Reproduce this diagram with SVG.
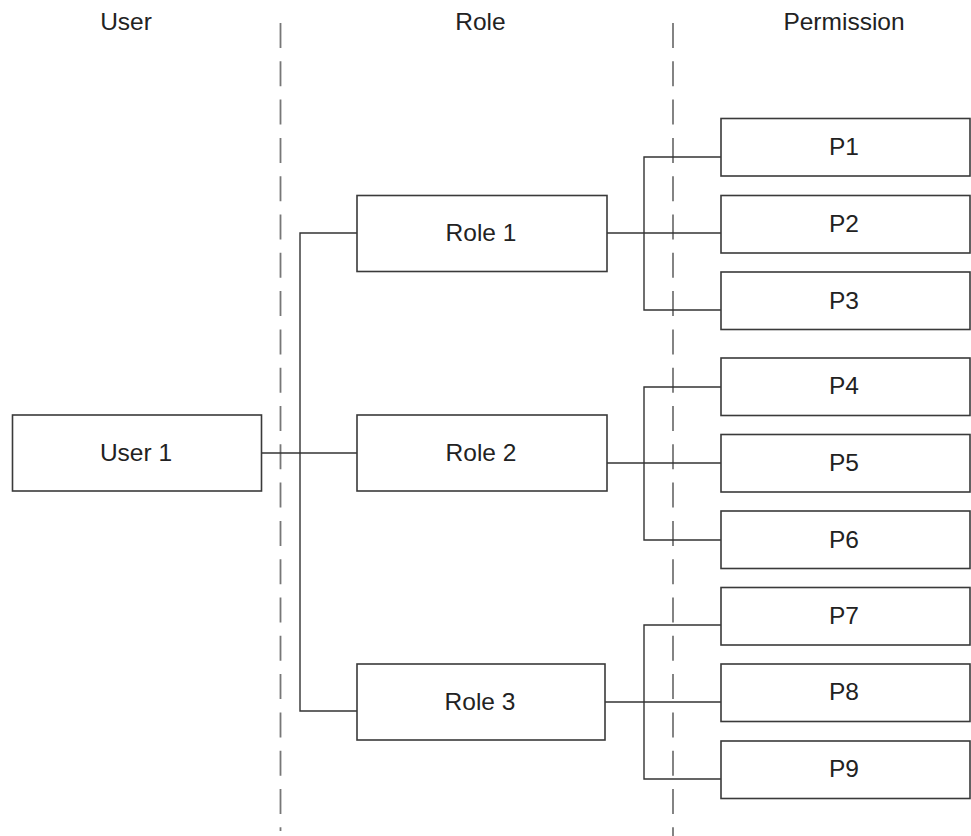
<svg xmlns="http://www.w3.org/2000/svg" width="971" height="836" viewBox="0 0 971 836">
<style>
.box{fill:#fff;stroke:#3a3a3a;stroke-width:1.6}
.lbl{font-family:"Liberation Sans",Arial,sans-serif;font-size:24.5px;fill:#222;text-anchor:middle}
.conn{fill:none;stroke:#333;stroke-width:1.4}
.sep{fill:none;stroke:#777;stroke-width:1.8;stroke-dasharray:25 13.3}
</style>
<rect width="971" height="836" fill="#fff"/>
<g id="headers">
<text class="lbl" x="126" y="30">User</text>
<text class="lbl" x="480.5" y="30">Role</text>
<text class="lbl" x="844" y="30">Permission</text>
</g>
<g id="separators">
<line class="sep" x1="280.5" y1="23" x2="280.5" y2="831"/>
<line class="sep" x1="673" y1="23" x2="673" y2="836"/>
</g>
<g id="connectors">
<path class="conn" d="M262 453 H357"/>
<path class="conn" d="M357 233 H300 V711 H357"/>
<path class="conn" d="M607 233 H721"/>
<path class="conn" d="M721 157 H644 V310 H721"/>
<path class="conn" d="M607 463 H721"/>
<path class="conn" d="M721 387 H644 V540 H721"/>
<path class="conn" d="M605 702 H721"/>
<path class="conn" d="M721 625 H644 V779 H721"/>
</g>
<g id="user1"><rect class="box" x="12.5" y="415" width="249" height="76"/><text class="lbl" x="136" y="461">User 1</text></g>
<g id="role1"><rect class="box" x="357" y="195.5" width="250" height="76"/><text class="lbl" x="481" y="241">Role 1</text></g>
<g id="role2"><rect class="box" x="357" y="415" width="250" height="76"/><text class="lbl" x="481" y="461">Role 2</text></g>
<g id="role3"><rect class="box" x="357" y="664" width="248" height="76"/><text class="lbl" x="480" y="710">Role 3</text></g>
<g id="p1"><rect class="box" x="721" y="118.5" width="249" height="57.5"/><text class="lbl" x="844" y="155">P1</text></g>
<g id="p2"><rect class="box" x="721" y="195.5" width="249" height="57.5"/><text class="lbl" x="844" y="232">P2</text></g>
<g id="p3"><rect class="box" x="721" y="272" width="249" height="57.5"/><text class="lbl" x="844" y="309">P3</text></g>
<g id="p4"><rect class="box" x="721" y="358" width="249" height="57.5"/><text class="lbl" x="844" y="394">P4</text></g>
<g id="p5"><rect class="box" x="721" y="434.5" width="249" height="57.5"/><text class="lbl" x="844" y="471">P5</text></g>
<g id="p6"><rect class="box" x="721" y="511" width="249" height="57.5"/><text class="lbl" x="844" y="548">P6</text></g>
<g id="p7"><rect class="box" x="721" y="587.5" width="249" height="57.5"/><text class="lbl" x="844" y="624">P7</text></g>
<g id="p8"><rect class="box" x="721" y="664" width="249" height="57.5"/><text class="lbl" x="844" y="700">P8</text></g>
<g id="p9"><rect class="box" x="721" y="741" width="249" height="57.5"/><text class="lbl" x="844" y="777">P9</text></g>
</svg>
